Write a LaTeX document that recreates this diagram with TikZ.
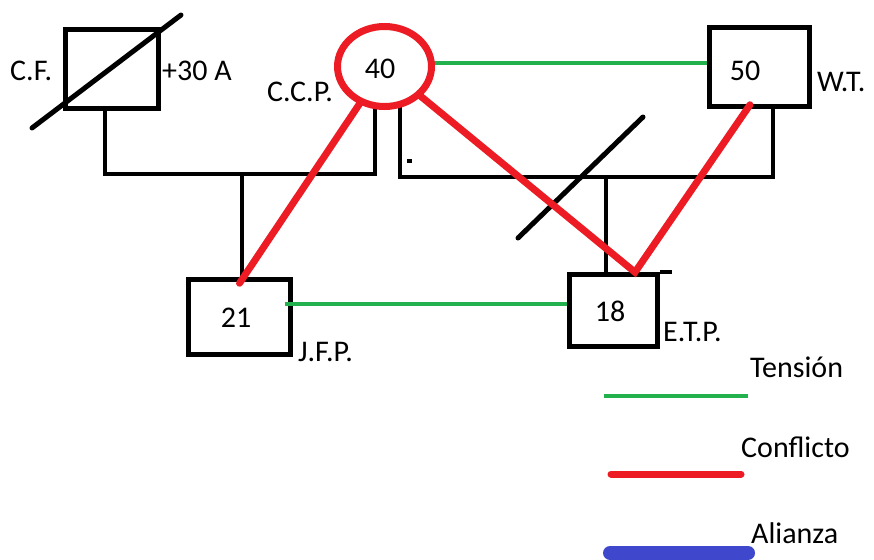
\documentclass[tikz,border=0pt]{standalone}
\usepackage{fontspec}
\setmainfont{Carlito}
\usetikzlibrary{shapes.geometric}
\definecolor{tgreen}{RGB}{34,177,76}
\definecolor{cred}{RGB}{237,28,36}
\definecolor{ablue}{RGB}{63,72,204}
\begin{document}
\begin{tikzpicture}[x=1pt,y=-1pt,
  font=\fontsize{30}{34}\selectfont,
  person/.style={draw,line width=4.5pt,rectangle,inner sep=0pt},
  famline/.style={line width=4pt},
  cross/.style={line width=5pt,line cap=round},
  tensionline/.style={draw=tgreen,line width=4pt},
  conflictline/.style={draw=cred,line width=7pt,line cap=round},
  allianceline/.style={draw=ablue,line width=14pt,line cap=round},
  lbl/.style={inner sep=0pt,anchor=west}]
\useasboundingbox[fill=white] (0,0) rectangle (874,559);
\node[person,minimum width=93pt,minimum height=79pt] (cf) at (112,69) {};
\node[person,minimum width=100pt,minimum height=79pt] (wt) at (759.5,67) {};
\node[person,minimum width=102pt,minimum height=75pt] (jfp) at (239.5,317) {};
\node[person,minimum width=88pt,minimum height=72pt] (etp) at (613.5,310.5) {};
\node[ellipse,inner sep=0pt,minimum width=95pt,minimum height=81pt] (ccp) at (384.5,66.5) {};
\node (n40) at (380,69) {40};
\node (n50) at (745,71) {50};
\node (n21) at (236,318) {21};
\node (n18) at (610,311) {18};
\node[lbl] (lcf) at (10,71) {C.F.};
\node[lbl] (lage) at (162,71) {+30 A};
\node[lbl] (lccp) at (267,92) {C.C.P.};
\node[lbl] (lwt) at (817,82) {W.T.};
\node[lbl] (ljfp) at (298,352) {J.F.P.};
\node[lbl] (letp) at (663,332) {E.T.P.};
\coordinate (bar1w) at (105,174);
\coordinate (bar1e) at (375,174);
\coordinate (bar2w) at (400,177);
\coordinate (bar2e) at (773,177);
\coordinate (kid1) at (242,174);
\coordinate (kid2) at (606,177);
\draw[famline] (cf.south -| bar1w) -- (bar1w) -- (bar1e) -- (bar1e |- ccp.south);
\draw[famline] (bar2w |- ccp.south) -- (bar2w) -- (bar2e) -- (bar2e |- wt.south);
\draw[famline] (kid1) -- (kid1 |- jfp.north);
\draw[famline] (kid2) -- (kid2 |- etp.north);
\draw[famline] (etp.north east) -- ++(12,0);
\fill (407,159) rectangle (412,163);
\draw[cross] (32,128) -- (181,15);
\draw[cross] (518,238) -- (643,117);
\draw[tensionline] ([yshift=3.5pt]ccp.east) -- ([yshift=3.5pt]ccp.east -| wt.west);
\draw[tensionline] ([yshift=13pt,xshift=-8pt]jfp.east) -- ([yshift=13pt]jfp.east -| etp.west);
\coordinate (vtip) at ([xshift=21.5pt]etp.north);
\draw[conflictline] (ccp) -- ([yshift=-6pt]jfp.north);
\draw[conflictline] (ccp) -- (vtip) -- ([xshift=-9.5pt,yshift=4pt]wt.south);
\draw[cred,line width=7pt] (ccp.center) ellipse (47pt and 40pt);
\node[lbl] (ltension) at (750,367) {Tensión};
\node[lbl] (lconflict) at (741,447) {Conflicto};
\node[lbl] (lalliance) at (751,533) {Alianza};
\draw[tensionline] (604,396) -- (748,396);
\draw[conflictline] (611,474) -- (741,474);
\draw[allianceline] (610,553) -- (748,553);
\end{tikzpicture}
\end{document}
